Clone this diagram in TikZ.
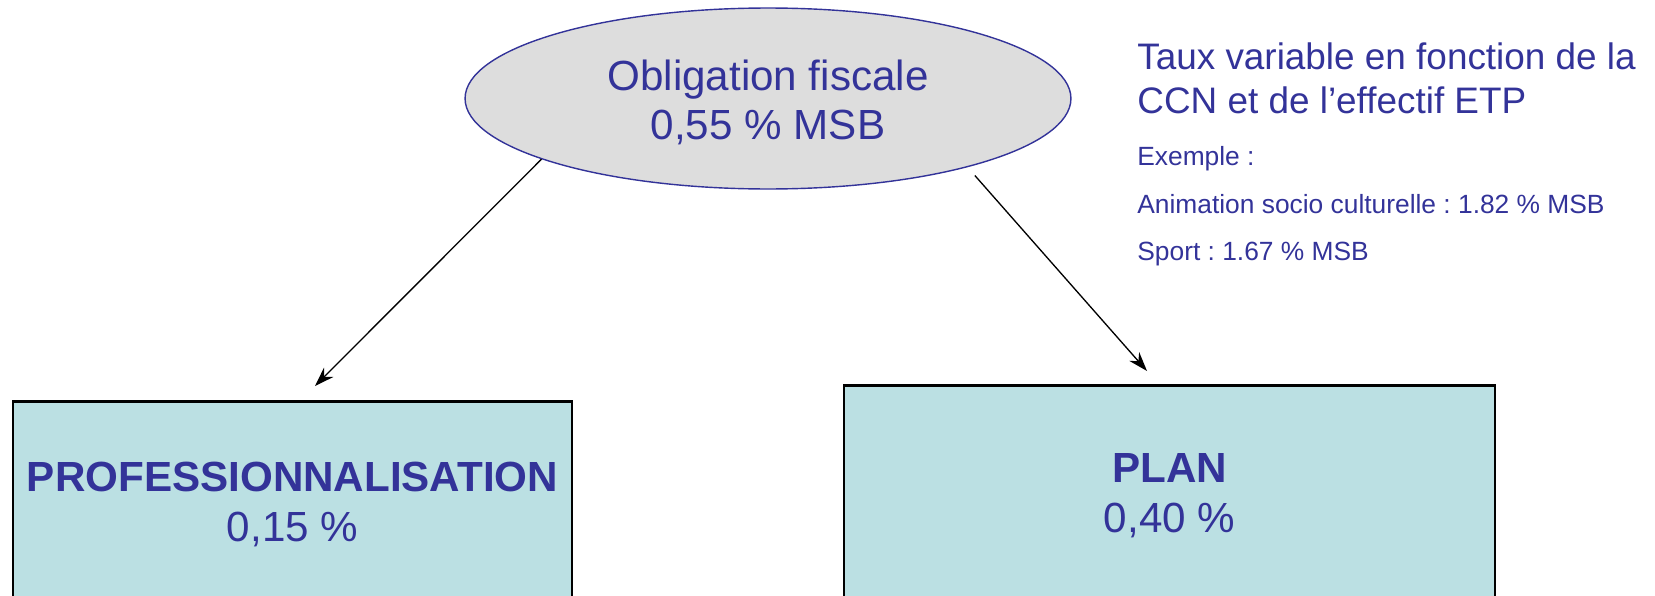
\documentclass[tikz,border=0pt]{standalone}
\usepackage{fontspec}
\setmainfont{Liberation Sans}
\usepackage{xcolor}
\usepackage{tikz}
\usetikzlibrary{shapes.geometric, arrows.meta}
\frenchspacing
\definecolor{ink}{HTML}{333399}
\definecolor{ovalgray}{HTML}{DDDDDD}
\definecolor{boxteal}{HTML}{BBE0E3}
\tikzstyle{fiscal} = [ellipse, minimum width=12.12cm, minimum height=3.62cm, inner sep=0pt, fill=ovalgray, draw=ink, line width=0.8pt, text=ink, align=center, font=\fontsize{24}{28}\selectfont]
\tikzstyle{share} = [rectangle, inner sep=0pt, fill=boxteal, draw=black, line width=0.7pt, text=ink, align=center, font=\fontsize{24}{28.5}\selectfont]
\tikzstyle{topedge} = [line width=1.3pt, black]
\tikzstyle{note} = [anchor=base west, inner sep=0pt, text=ink, font=\fontsize{21}{25}\selectfont]
\tikzstyle{subnote} = [anchor=base west, inner sep=0pt, text=ink, font=\fontsize{15}{18}\selectfont]
\tikzstyle{arrow} = [line width=0.75pt, -{Stealth[length=11pt, width=7.5pt]}]

\begin{document}
\begin{tikzpicture}[x=0.02cm, y=-0.02cm]
  \useasboundingbox (0,0) rectangle (1655,595);
  \clip (0,0) rectangle (1655,595);
  % nodes
    \node (fiscale) [fiscal] at (768,98.5) {\rule{0pt}{22pt}Obligation fiscale\\0,55 \% MSB};
    \node (tauxA) [note] at (1137,69) {Taux variable en fonction de la};
    \node (tauxB) [note] at (1137,113) {CCN et de l’effectif ETP};
    \node (exemple) [subnote] at (1137,165) {Exemple :};
    \node (animation) [subnote] at (1137,213) {Animation socio culturelle : 1.82 \% MSB};
    \node (sport) [subnote] at (1137,260) {Sport : 1.67 \% MSB};
    \node (pro) [share, minimum width=11.18cm, minimum height=4.1cm] at (292.5,504.5) {\textbf{PROFESSIONNALISATION}\\0,15 \%};
    \node (plan) [share, minimum width=13.02cm, minimum height=4.38cm] at (1169.5,495.5) {\textbf{PLAN}\\0,40 \%};
    \draw [topedge] (pro.north west) -- (pro.north east);
    \draw [topedge] (plan.north west) -- (plan.north east);
    \coordinate (tipL) at (315,386);
    \coordinate (tipR) at (1147,371);
  %arrows
    \draw [arrow] (fiscale.195) -- (tipL);
    \draw [arrow, shorten <=0.22cm] (fiscale.341.8) -- (tipR);
\end{tikzpicture}
\end{document}
